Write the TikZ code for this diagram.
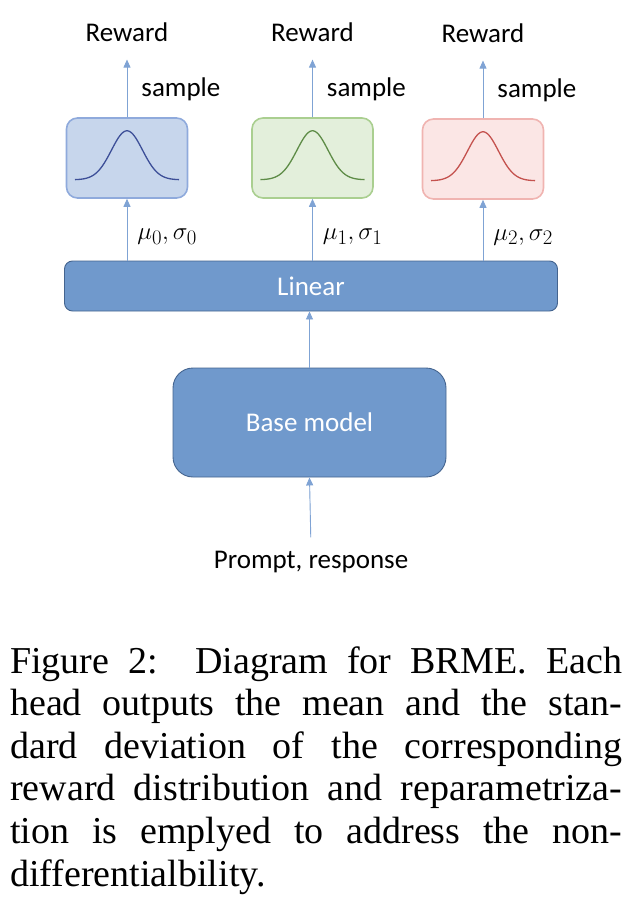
\documentclass[tikz,border=0pt]{standalone}
\usepackage{fontspec}
\setmainfont{Liberation Serif}
\newfontfamily\calibri{Carlito}
\usepackage{tikz}
\usetikzlibrary{calc,arrows.meta}
\definecolor{arrblue}{HTML}{7FA3D4}
\definecolor{headblue}{HTML}{7099CC}
\definecolor{headline}{HTML}{44648F}
\definecolor{fillA}{HTML}{C7D6EC}\definecolor{lineA}{HTML}{8FAADC}\definecolor{curveA}{HTML}{3D4F98}
\definecolor{fillB}{HTML}{E3EFDB}\definecolor{lineB}{HTML}{AACF90}\definecolor{curveB}{HTML}{5E8C47}
\definecolor{fillC}{HTML}{FBE6E5}\definecolor{lineC}{HTML}{F0B4B1}\definecolor{curveC}{HTML}{C4524E}

\begin{document}
\begin{tikzpicture}[x=1pt,y=-1pt,
  arr/.style={-{Triangle[width=7pt,length=8pt]},draw=arrblue,fill=arrblue,line width=0.9pt},
  lbl/.style={font=\calibri\fontsize{27}{30}\selectfont,inner sep=2pt},
  mlbl/.style={font=\fontsize{30}{33}\selectfont,inner sep=2pt},
  distbox/.style={draw=line#1,fill=fill#1,line width=1.6pt,rounded corners=11pt,minimum width=121pt,minimum height=80pt,inner sep=0pt},
  layer/.style={draw=headline,fill=headblue,line width=0.9pt,text=white,font=\calibri\fontsize{27}{30}\selectfont},
  captext/.style={font=\fontsize{38}{42.6}\selectfont,inner sep=0pt}]
\useasboundingbox (0,0) rectangle (642,904);
% heads
\node[distbox=A] (b0) at (127,158) {};
\node[distbox=B] (b1) at (312.5,158) {};
\node[distbox=C] (b2) at (483,159) {};
\foreach \i/\c in {0/A,1/B,2/C}{
  \draw[curve\c,line width=1.3pt,shift={(b\i.south)}] plot[domain=-52:52,samples=80,smooth] (\x,{-19-49*exp(-0.5*(\x/15.5)^2)});
  \node[lbl,anchor=base] (r\i) at ($(b\i.north)+(0,-76)$) {Reward};
  \draw[arr,shorten >=16pt] (b\i.north) -- (r\i.south) node[lbl,midway,right=12pt,yshift=-9pt] {sample};
}
% linear layer and base model
\node[layer,rounded corners=8pt,minimum width=493pt,minimum height=50pt] (lin) at (311,286) {Linear};
\node[layer,rounded corners=20pt,minimum width=273pt,minimum height=109pt] (base) at (309.5,422.5) {Base model};
\node[lbl,anchor=base] (pr) at (311,568) {Prompt, response};
\draw[arr] (lin.north -| b0) -- (b0.south) node[mlbl,midway,right=8pt,yshift=-7pt] {$\mu_0,\sigma_0$};
\draw[arr] (lin.north -| b1) -- (b1.south) node[mlbl,midway,right=8pt,yshift=-7pt] {$\mu_1,\sigma_1$};
\draw[arr] (lin.north -| b2) -- (b2.south) node[mlbl,midway,right=8pt,yshift=-7pt] {$\mu_2,\sigma_2$};
\draw[arr] (base.north) -- (base.north |- lin.south);
\draw[arr,shorten <=11pt] (pr.north) -- (base.south);
% caption
\foreach \capline [count=\k from 0] in {Figure 2:\ \ Diagram for BRME. Each,head outputs the mean and the stan-,dard deviation of the corresponding,reward distribution and reparametriza-,tion is emplyed to address the non-}
  \node[captext,anchor=base west] (c\k) at (10,{673+42.6*\k}) {\makebox[612pt][s]{\capline}};
\node[captext,anchor=base west] (c5) at (10,{673+42.6*5}) {differentialbility.};
\end{tikzpicture}
\end{document}
